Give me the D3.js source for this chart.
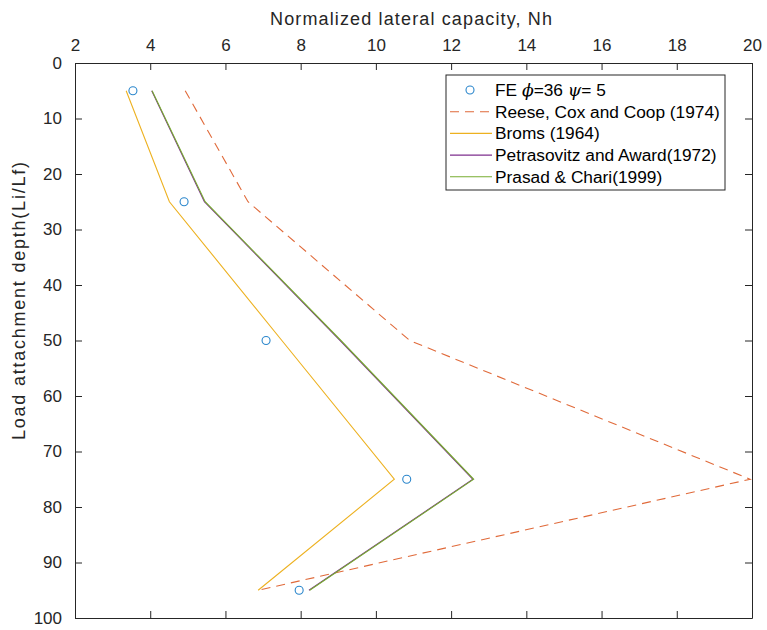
<!DOCTYPE html>
<html>
<head>
<meta charset="utf-8">
<script src="https://cdn.jsdelivr.net/npm/d3@7"></script>
<style>
  body { margin: 0; background: #fff; }
  svg { display: block; font-family: "Liberation Sans", Arial, sans-serif; }
</style>
</head>
<body>
<svg id="chart" width="767" height="630"></svg>
<script>
// Load attachment depths (Li/Lf, %)
const depths = [5, 25, 50, 75, 95];

// Normalized lateral capacity Nh for each method
const feValues      = [3.54, 4.9, 7.08, 10.82, 7.96];
const reeseValues   = [4.93, 6.6, 10.9, 19.95, 6.87];
const bromsValues   = [3.36, 4.51, 7.5, 10.49, 6.87];
const petraValues   = [4.04, 5.44, 9.05, 12.58, 8.22];
const prasadValues  = [4.05, 5.46, 9.07, 12.6, 8.24];

const xTicks = [2, 4, 6, 8, 10, 12, 14, 16, 18, 20];
const yTicks = [0, 10, 20, 30, 40, 50, 60, 70, 80, 90, 100];

const legendLabels = [
  "FE \u03D5=36 \u03C8= 5",
  "Reese, Cox and Coop (1974)",
  "Broms (1964)",
  "Petrasovitz and Award(1972)",
  "Prasad & Chari(1999)"
];

const svg = d3.select("#chart");
const padL = 75, padR = 752, padT = 63, padB = 618;
const axisColor = "#262626";

const x = d3.scaleLinear().domain([2, 20]).range([padL, padR]);
const y = d3.scaleLinear().domain([0, 100]).range([padT, padB]);

const plot = svg.append("g");
svg.append("clipPath").attr("id", "clip")
  .append("rect").attr("x", padL).attr("y", padT)
  .attr("width", padR - padL).attr("height", padB - padT);

const line = d3.line().x(d => x(d[0])).y(d => y(d[1]));
const pairs = vals => vals.map((v, i) => [v, depths[i]]);

const series = [
  { vals: reeseValues,  color: "#E06A3A", dash: "9,6" },
  { vals: bromsValues,  color: "#EDB120", dash: null },
  { vals: petraValues,  color: "#7E2F8E", dash: null },
  { vals: prasadValues, color: "#77AC30", dash: null }
];

const lines = plot.append("g").attr("clip-path", "url(#clip)");
series.forEach(s => {
  lines.append("path")
    .datum(pairs(s.vals))
    .attr("d", line)
    .attr("fill", "none")
    .attr("stroke", s.color)
    .attr("stroke-width", 1.1)
    .attr("stroke-dasharray", s.dash);
});

// FE markers
plot.append("g").selectAll("circle")
  .data(pairs(feValues))
  .join("circle")
  .attr("cx", d => x(d[0]))
  .attr("cy", d => y(d[1]))
  .attr("r", 4)
  .attr("fill", "none")
  .attr("stroke", "#2a86cc")
  .attr("stroke-width", 1.1);

// Axes (ticks pointing inward, box on all sides)
const axTop = d3.axisTop(x).tickValues(xTicks).tickSizeInner(-7).tickSizeOuter(0).tickPadding(12);
const axBottom = d3.axisBottom(x).tickValues(xTicks).tickSizeInner(-7).tickSizeOuter(0).tickFormat("");
const axLeft = d3.axisLeft(y).tickValues(yTicks).tickSizeInner(-7).tickSizeOuter(0).tickPadding(13);
const axRight = d3.axisRight(y).tickValues(yTicks).tickSizeInner(-7).tickSizeOuter(0).tickFormat("");

function styleAxis(g) {
  g.select(".domain").attr("stroke", axisColor).attr("stroke-width", 1);
  g.selectAll(".tick line").attr("stroke", axisColor);
  g.selectAll(".tick text").attr("fill", axisColor)
    .style("font-size", "17px")
    .style("font-family", "'Liberation Sans', Arial, sans-serif");
}

svg.append("g").attr("transform", `translate(0,${padT})`).call(axTop).call(styleAxis);
svg.append("g").attr("transform", `translate(0,${padB})`).call(axBottom).call(styleAxis);
svg.append("g").attr("transform", `translate(${padL},0)`).call(axLeft).call(styleAxis);
svg.append("g").attr("transform", `translate(${padR},0)`).call(axRight).call(styleAxis);

// Axis titles
svg.append("text")
  .attr("x", 270).attr("y", 25)
  .attr("fill", axisColor)
  .attr("textLength", 282)
  .attr("lengthAdjust", "spacing")
  .style("font-size", "18px")
  .text("Normalized lateral capacity, Nh");

svg.append("text")
  .attr("transform", "translate(25,440) rotate(-90)")
  .attr("fill", axisColor)
  .attr("textLength", 278)
  .attr("lengthAdjust", "spacing")
  .style("font-size", "18px")
  .text("Load attachment depth(Li/Lf)");

// Legend
const lg = svg.append("g").attr("transform", "translate(446,75)");
lg.append("rect")
  .attr("width", 279).attr("height", 115)
  .attr("fill", "#fff").attr("stroke", axisColor).attr("stroke-width", 1);

const legendItems = [
  { type: "marker", color: "#2a86cc" },
  { type: "line", color: "#E06A3A", dash: "9,6" },
  { type: "line", color: "#EDB120" },
  { type: "line", color: "#7E2F8E" },
  { type: "line", color: "#77AC30" }
];

legendItems.forEach((it, i) => {
  const cy = 15 + i * 21.7;
  if (it.type === "marker") {
    lg.append("circle").attr("cx", 24).attr("cy", cy).attr("r", 4)
      .attr("fill", "none").attr("stroke", it.color).attr("stroke-width", 1.1);
  } else {
    lg.append("line").attr("x1", 4).attr("x2", 46).attr("y1", cy).attr("y2", cy)
      .attr("stroke", it.color).attr("stroke-width", 1.1)
      .attr("stroke-dasharray", it.dash || null);
  }
  const t = lg.append("text")
    .attr("x", 49).attr("y", cy + 6)
    .attr("fill", "#000")
    .style("font-size", "17.3px");
  // Greek symbols are set in italic, the rest upright
  legendLabels[i].split(/([\u03D5\u03C8])/).filter(s => s.length).forEach(part => {
    const greek = /[\u03D5\u03C8]/.test(part);
    t.append("tspan")
      .style("font-style", greek ? "italic" : "normal")
      .style("font-family", greek ? "'DejaVu Serif', serif" : null)
      .text(part);
  });
});
</script>
</body>
</html>
